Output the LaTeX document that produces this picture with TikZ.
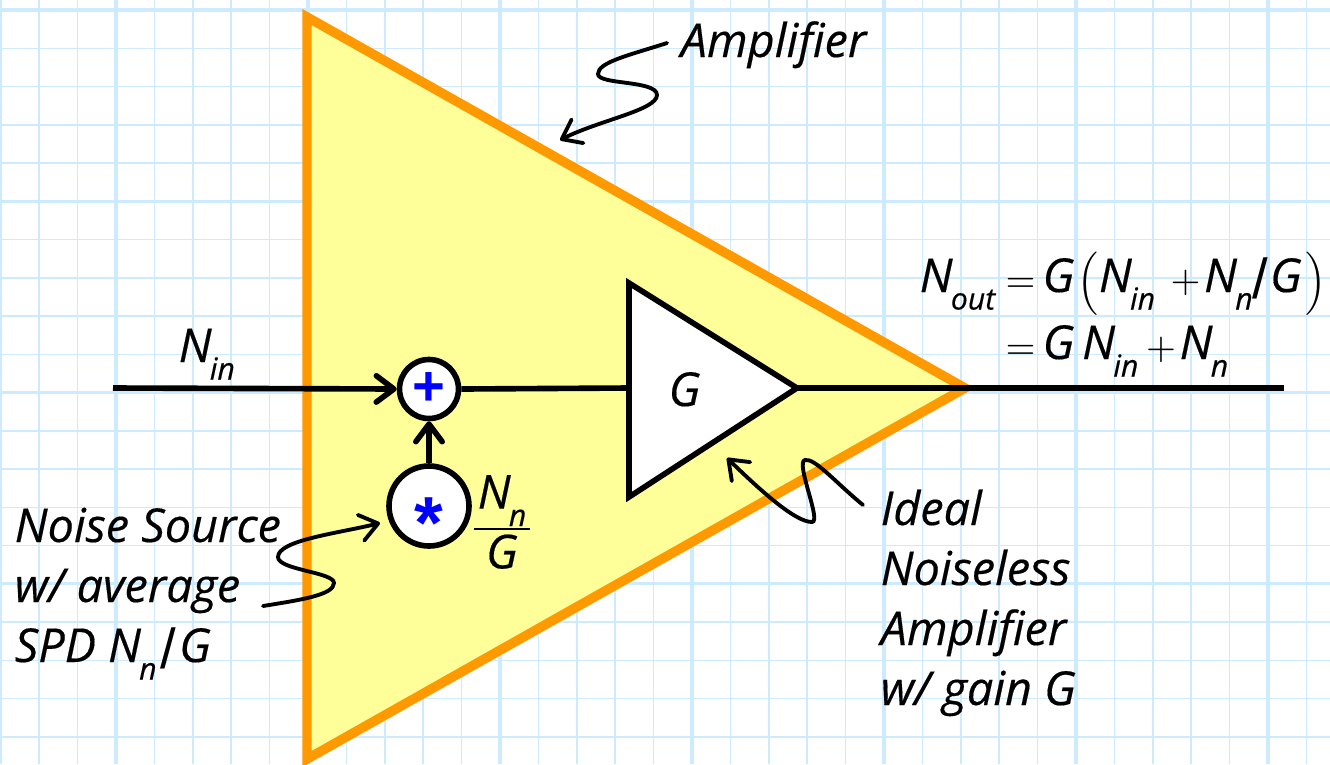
\documentclass[tikz,border=0pt]{standalone}
\usepackage{fontspec}
\setmainfont{Open Sans}[ItalicFeatures={FakeBold=0.35}]
\newfontfamily\symfont{Liberation Sans}
\usepackage{xcolor}
\usetikzlibrary{arrows.meta,positioning,calc}
\definecolor{cGrid}{HTML}{CCEBFF}
\definecolor{cAmpF}{HTML}{FFFF99}
\definecolor{cAmpL}{HTML}{FF9900}
\newcommand{\sbs}[1]{\raisebox{-0.7ex}{\fontsize{8.6}{9}\selectfont #1}}
\newcommand{\Nv}[1]{N\kern-0.5pt\sbs{#1}}
\newcommand{\opr}[1]{{\fontsize{10.5}{12}\selectfont$#1$}}
\newcommand{\prn}[1]{{\fontsize{10}{12}\selectfont$\Big#1$}}
\newcommand{\slsh}{\raisebox{-1.8pt}{\symfont\upshape\fontsize{16}{16}\selectfont/}}

\begin{document}
\begin{tikzpicture}[x=1cm,y=1cm,
  gridthin/.style={draw=cGrid,line width=0.43pt},
  gridthick/.style={draw=cGrid,line width=0.9pt},
  sig/.style={line width=1.6pt,draw=black},
  sigarr/.style={sig,-{Straight Barb[length=5pt,width=7.5pt,round]}},
  squig/.style={line width=1.1pt,line cap=round,-{Straight Barb[length=5pt,width=7.5pt,round]}},
  txt/.style={anchor=base west,inner sep=0pt,font=\itshape\fontsize{13.3}{17.07}\selectfont,align=left},
  eqn/.style={anchor=base west,inner sep=0pt,font=\itshape\fontsize{13.3}{15}\selectfont},
  junc/.style={circle,draw=black,fill=white,line width=1.6pt,inner sep=0pt,text=blue}]

  \clip (0,0) rectangle (13.30,-7.64);
  \fill[white] (0,0) rectangle (13.30,-7.64);

  \foreach \i in {-3,...,31}
    \draw[gridthin] ({1.16+0.384*\i},0) -- ({1.16+0.384*\i},-7.64);
  \foreach \i in {0,...,20}
    \draw[gridthin] (0,{-0.10-0.3825*\i}) -- (13.30,{-0.10-0.3825*\i});
  \foreach \i in {0,...,6}
    \draw[gridthick] ({1.16+1.92*\i},0) -- ({1.16+1.92*\i},-7.64);
  \foreach \i in {0,...,4}
    \draw[gridthick] (0,{-0.10-1.9125*\i}) -- (13.30,{-0.10-1.9125*\i});

  \draw[fill=cAmpF,draw=cAmpL,line width=2.7pt,miter limit=10]
    (3.07,-0.17) -- (9.65,-3.88) -- (3.07,-7.59) -- cycle;

  \coordinate (nin) at (1.13,-3.88);
  \coordinate (nout) at (12.84,-3.88);
  \coordinate (gIn) at (6.29,-3.88);
  \coordinate (gOut) at (7.97,-3.88);

  \node[junc,minimum size=0.59cm,font=\symfont\bfseries\fontsize{16}{16}\selectfont] (sum) at (4.29,-3.89) {+};
  \node[junc,minimum size=0.80cm,font=\symfont\bfseries\fontsize{21}{21}\selectfont] (src) at (4.29,-5.06)
    {\raisebox{-12pt}[0pt][0pt]{*}};

  \draw[sigarr] (nin) -- (sum.west);
  \draw[sig] (sum.east) -- (gIn);
  \draw[sig] (gOut) -- (nout);
  \draw[sigarr] (src.north) -- (sum.south);

  \draw[sig,fill=white,miter limit=10] (6.29,-2.83) -- (7.97,-3.88) -- (6.29,-4.97) -- cycle;
  \node[eqn] (gain) at (6.68,-4.06) {G};

  \coordinate (ampS) at (6.67,-0.43);
  \coordinate (ampE) at (5.60,-1.40);
  \draw[squig] (ampS) .. controls (6.30,-0.55) and (5.98,-0.62) .. (5.98,-0.74)
    .. controls (5.98,-0.85) and (6.57,-0.80) .. (6.57,-0.95)
    .. controls (6.57,-1.10) and (6.00,-1.20) .. (ampE);

  \coordinate (srcS) at (2.63,-6.06);
  \coordinate (srcE) at (3.80,-5.23);
  \draw[squig] (srcS) .. controls (3.00,-6.00) and (3.34,-5.95) .. (3.34,-5.83)
    .. controls (3.34,-5.72) and (2.78,-5.70) .. (2.78,-5.57)
    .. controls (2.78,-5.40) and (3.40,-5.33) .. (srcE);

  \coordinate (gainS) at (8.63,-5.05);
  \coordinate (gainE) at (7.27,-4.58);
  \draw[squig] (gainS) .. controls (8.35,-4.82) and (8.15,-4.58) .. (8.05,-4.60)
    .. controls (7.95,-4.62) and (8.22,-5.22) .. (8.12,-5.22)
    .. controls (7.95,-5.22) and (7.60,-4.90) .. (gainE);

  \node[txt] (lblAmp) at (6.80,-0.57) {Amplifier};
  \node[txt] (lblSrc) at (0.14,-6.62) {Noise Source\\w/ average\\SPD \Nv{n}\kern1pt\slsh\kern1pt G};
  \node[txt] (lblGain) at (8.80,-7.05) {Ideal\\Noiseless\\Amplifier\\w/ gain G};
  \node[eqn] (lblIn) at (1.78,-3.62) {\Nv{in}};
  \node[anchor=center,inner sep=0pt,align=center,font=\itshape\fontsize{13.3}{15}\selectfont] (lblFrac) at (5.02,-5.22)
    {\Nv{n}\\[-9pt]\rule{0.56cm}{0.4pt}\\[-4pt]G};

  \node[eqn] (eqA) at (9.19,-2.92) {\Nv{out}};
  \node[eqn] (eqB) at (10.05,-2.92)
    {\opr{=}\kern2pt G\kern1pt\prn{(}\Nv{in}\,\,\opr{+}\kern1pt\Nv{n}\slsh\kern0.5pt G\kern1pt\prn{)}};
  \node[eqn] (eqC) at (10.05,-3.59) {\opr{=}\kern2pt G\,\Nv{in}\,\opr{+}\kern1pt\Nv{n}};
\end{tikzpicture}
\end{document}
